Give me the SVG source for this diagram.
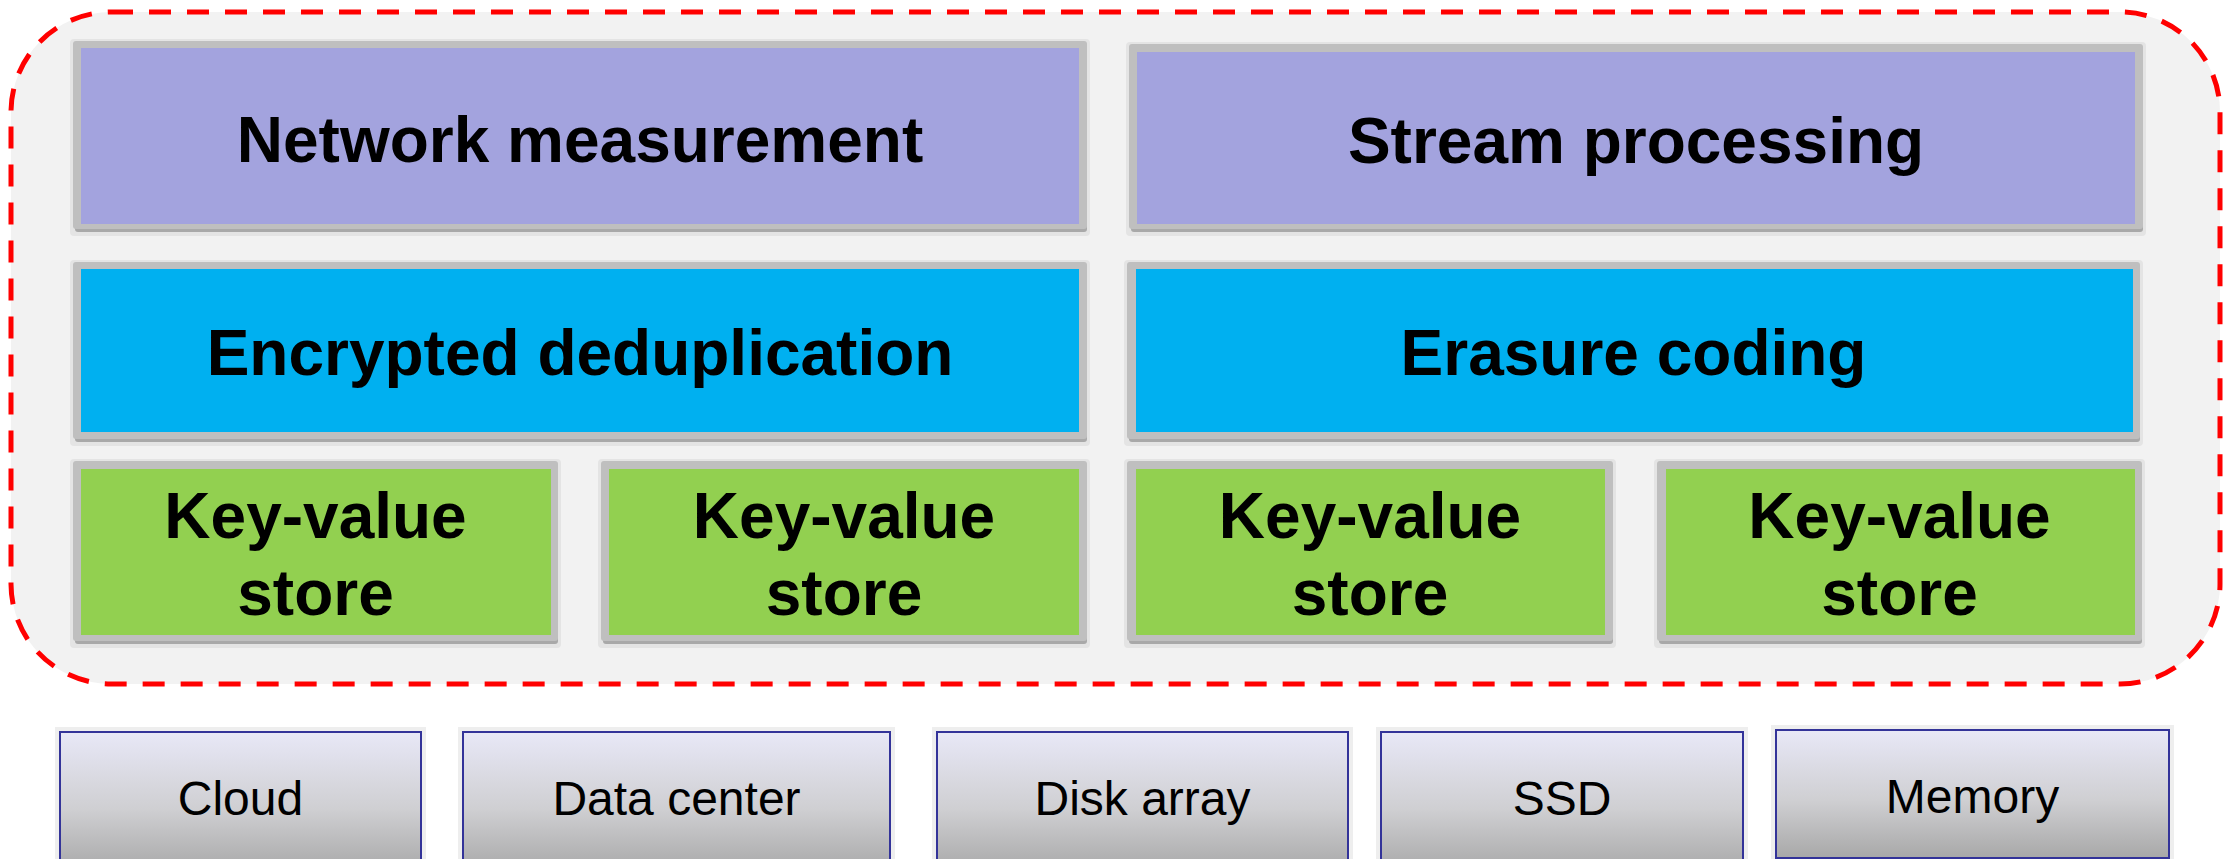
<svg xmlns="http://www.w3.org/2000/svg" width="2225" height="859" viewBox="0 0 2225 859">
<defs>
<linearGradient id="gradBase" x1="0" y1="0" x2="0" y2="1">
<stop offset="0" stop-color="#E8E8F7"/>
<stop offset="0.55" stop-color="#CFCFD2"/>
<stop offset="1" stop-color="#A8A8A8"/>
</linearGradient>
<style>
.frame{fill:#F2F2F2;stroke:#FF0000;stroke-width:5;stroke-dasharray:22 16}
.halo{fill:#E4E4E4}
.shadow{fill:#A9A9A9}
.border{fill:#BFBFBF}
.purple{fill:#A3A3DE}
.blue{fill:#00B0F0}
.green{fill:#92D050}
.big{font-family:"Liberation Sans",Arial,sans-serif;font-weight:bold;font-size:64px;fill:#000;text-anchor:middle}
.bhalo{fill:#EEEEEE}
.base{fill:url(#gradBase);stroke:#333399;stroke-width:2}
.small{font-family:"Liberation Sans",Arial,sans-serif;font-size:48px;fill:#000;text-anchor:middle}
</style>
</defs>
<rect class="frame" x="11" y="12" width="2209" height="672" rx="100" ry="100"/>

<g id="network-measurement">
<rect class="halo" x="70" y="39" width="1020" height="197" rx="4"/>
<rect class="shadow" x="75" y="44" width="1012" height="188" rx="3"/>
<rect class="border" x="73" y="41" width="1014" height="188" rx="3"/>
<rect class="purple" x="81" y="48" width="998" height="176"/>
<text class="big" x="580" y="162">Network measurement</text>
</g>
<g id="stream-processing">
<rect class="halo" x="1126" y="42" width="1020" height="194" rx="4"/>
<rect class="shadow" x="1131" y="47" width="1012" height="185" rx="3"/>
<rect class="border" x="1129" y="44" width="1014" height="185" rx="3"/>
<rect class="purple" x="1137" y="52" width="998" height="172"/>
<text class="big" x="1636" y="163">Stream processing</text>
</g>

<g id="encrypted-deduplication">
<rect class="halo" x="70" y="260" width="1020" height="186" rx="4"/>
<rect class="shadow" x="75" y="265" width="1012" height="177" rx="3"/>
<rect class="border" x="73" y="262" width="1014" height="177" rx="3"/>
<rect class="blue" x="81" y="269" width="998" height="163"/>
<text class="big" x="580" y="375">Encrypted deduplication</text>
</g>
<g id="erasure-coding">
<rect class="halo" x="1124" y="260" width="1019" height="186" rx="4"/>
<rect class="shadow" x="1129" y="265" width="1011" height="177" rx="3"/>
<rect class="border" x="1127" y="262" width="1013" height="177" rx="3"/>
<rect class="blue" x="1136" y="269" width="997" height="163"/>
<text class="big" x="1633.5" y="375">Erasure coding</text>
</g>

<g id="kv-store-1">
<rect class="halo" x="70" y="459" width="491" height="189" rx="4"/>
<rect class="shadow" x="75" y="464" width="483" height="180" rx="3"/>
<rect class="border" x="73" y="461" width="485" height="180" rx="3"/>
<rect class="green" x="81" y="469" width="470" height="166"/>
<text class="big" x="315.5" y="538">Key-value</text>
<text class="big" x="315.5" y="615">store</text>
</g>
<g id="kv-store-2">
<rect class="halo" x="598" y="459" width="492" height="189" rx="4"/>
<rect class="shadow" x="603" y="464" width="484" height="180" rx="3"/>
<rect class="border" x="601" y="461" width="486" height="180" rx="3"/>
<rect class="green" x="609" y="469" width="470" height="166"/>
<text class="big" x="844" y="538">Key-value</text>
<text class="big" x="844" y="615">store</text>
</g>
<g id="kv-store-3">
<rect class="halo" x="1124" y="459" width="492" height="189" rx="4"/>
<rect class="shadow" x="1129" y="464" width="484" height="180" rx="3"/>
<rect class="border" x="1127" y="461" width="486" height="180" rx="3"/>
<rect class="green" x="1136" y="469" width="469" height="166"/>
<text class="big" x="1370" y="538">Key-value</text>
<text class="big" x="1370" y="615">store</text>
</g>
<g id="kv-store-4">
<rect class="halo" x="1654" y="459" width="491" height="189" rx="4"/>
<rect class="shadow" x="1659" y="464" width="483" height="180" rx="3"/>
<rect class="border" x="1657" y="461" width="485" height="180" rx="3"/>
<rect class="green" x="1666" y="469" width="469" height="166"/>
<text class="big" x="1899.5" y="538">Key-value</text>
<text class="big" x="1899.5" y="615">store</text>
</g>

<g id="cloud">
<rect class="bhalo" x="55" y="727" width="371" height="140"/>
<rect class="base" x="60" y="732" width="361" height="140"/>
<text class="small" x="240.5" y="815">Cloud</text>
</g>
<g id="data-center">
<rect class="bhalo" x="458" y="727" width="437" height="140"/>
<rect class="base" x="463" y="732" width="427" height="140"/>
<text class="small" x="676.5" y="815">Data center</text>
</g>
<g id="disk-array">
<rect class="bhalo" x="932" y="727" width="421" height="140"/>
<rect class="base" x="937" y="732" width="411" height="140"/>
<text class="small" x="1142.5" y="815">Disk array</text>
</g>
<g id="ssd">
<rect class="bhalo" x="1376" y="727" width="372" height="140"/>
<rect class="base" x="1381" y="732" width="362" height="140"/>
<text class="small" x="1562" y="815">SSD</text>
</g>
<g id="memory">
<rect class="bhalo" x="1771" y="725" width="403" height="138"/>
<rect class="base" x="1776" y="730" width="393" height="128"/>
<text class="small" x="1972.5" y="813">Memory</text>
</g>
<g id="connectors"/>
</svg>
